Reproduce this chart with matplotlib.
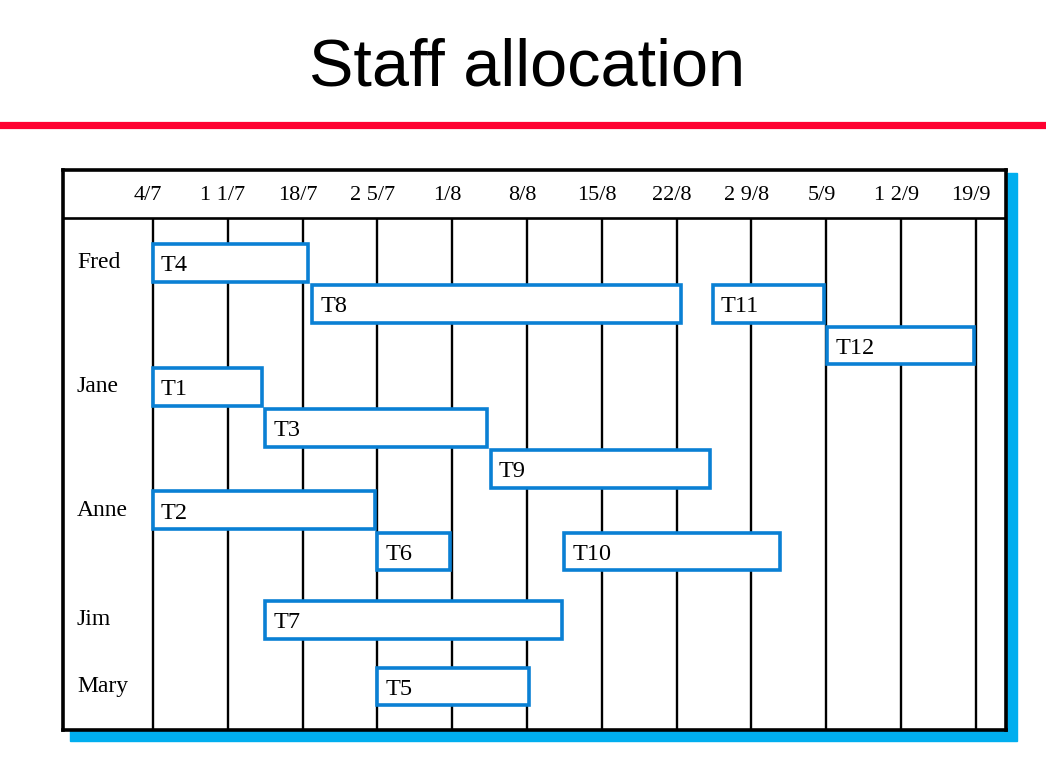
import matplotlib
matplotlib.use("Agg")
import matplotlib.pyplot as plt
from matplotlib.patches import Rectangle
from matplotlib.lines import Line2D

# week columns (days counted from 4/7)
week_labels = ['4/7', '1 1/7', '18/7', '2 5/7', '1/8', '8/8', '15/8',
               '22/8', '2 9/8', '5/9', '1 2/9', '19/9']
week_days = [0, 7, 14, 21, 28, 35, 42, 49, 56, 63, 70, 77]

staff = ['Fred', 'Jane', 'Anne', 'Jim', 'Mary']

# tasks: who does it, which sub-row, start/end in days
tasks = ['T4', 'T8', 'T11', 'T12', 'T1', 'T3', 'T9', 'T2', 'T6', 'T10', 'T7', 'T5']
task_staff = ['Fred', 'Fred', 'Fred', 'Fred', 'Jane', 'Jane', 'Jane',
              'Anne', 'Anne', 'Anne', 'Jim', 'Mary']
task_lane = [0, 1, 1, 2, 0, 1, 2, 0, 1, 1, 0, 0]
task_start = [0, 14.9, 52.4, 63.1, 0, 10.5, 31.6, 0, 21.0, 38.5, 10.5, 21.0]
task_end = [14.5, 49.4, 62.8, 76.8, 10.2, 31.3, 52.1, 20.8, 27.8, 58.7, 38.3, 35.2]

# layout: first row of each person (in row units)
staff_row = {'Fred': 0, 'Jane': 3, 'Anne': 6, 'Jim': 8.66, 'Mary': 10.27}

blue = '#0A80D4'
serif = 'Liberation Serif'

W, H = 1046, 765
fig = plt.figure(figsize=(W / 100, H / 100), dpi=100)

# title + red rule
fig.text(527 / W, 1 - 85 / H, 'Staff allocation', ha='center', va='baseline',
         fontsize=48, family='Liberation Sans')
fig.add_artist(Line2D([0, 1], [1 - 124.5 / H, 1 - 124.5 / H], color='#FF0030',
                      lw=5.2, transform=fig.transFigure))

# cyan shadow behind the box
shadow = Rectangle((70 / W, 1 - 740.7 / H), (1016.7 - 70) / W, (740.7 - 173) / H,
                   transform=fig.transFigure, color='#00AEEF', zorder=-1)
fig.add_artist(shadow)

ax = fig.add_axes([63 / W, 1 - 730 / H, (1006 - 63) / W, (730 - 170) / H])
ax.set_facecolor('white')
px_day = 74.8 / 7
row_h = 41.24
ax.set_xlim((63 - 153) / px_day, (1006 - 153) / px_day)
ax.set_ylim((730 - 242.3) / row_h, (170 - 242.3) / row_h)
ax.set_xticks([])
ax.set_yticks([])
for s in ax.spines.values():
    s.set_linewidth(2.6)
    s.set_color('black')

header_y = (217.5 - 242.3) / row_h
ax.axhline(header_y, color='black', lw=1.9, zorder=2)
ax.vlines(week_days, header_y, (730 - 242.3) / row_h, color='black', lw=1.7, zorder=1)

for d, lab in zip(week_days, week_labels):
    ax.text(d - 0.45, (200 - 242.3) / row_h, lab, ha='center', va='baseline',
            fontsize=16, family=serif)

for name in staff:
    ax.text((77 - 153) / px_day, staff_row[name] + 0.63, name, ha='left',
            va='baseline', fontsize=17, family=serif)

pad = 1.75 / row_h
for t, who, ln, a, b in zip(tasks, task_staff, task_lane, task_start, task_end):
    y = staff_row[who] + ln
    ax.barh(y + pad, b - a, left=a, height=1 - 2 * pad, align='edge',
            facecolor='white', edgecolor=blue, lw=2.6, zorder=3)
    ax.text(a + 8 / px_day, y + 0.70, t, ha='left', va='baseline',
            fontsize=17.5, family=serif, zorder=4)

fig.savefig('out.png', dpi=100)
